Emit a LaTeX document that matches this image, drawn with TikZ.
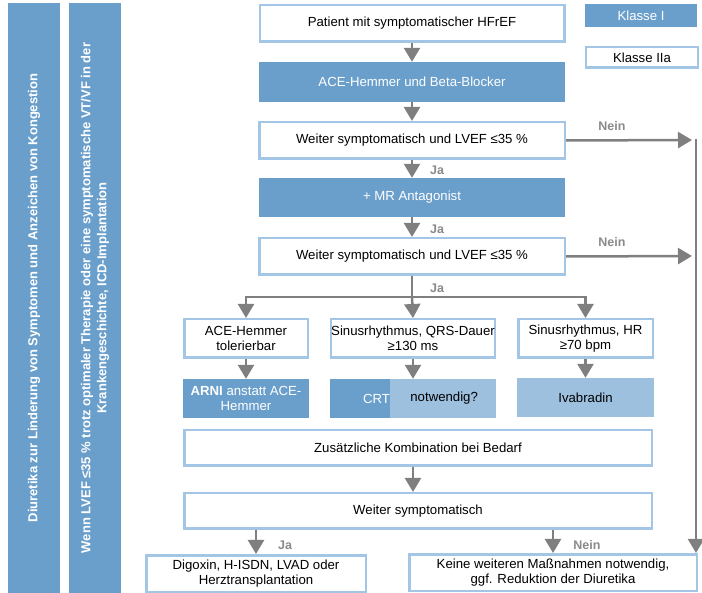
\documentclass[tikz,border=0pt]{standalone}
\usepackage{fontspec}
\setmainfont{Liberation Sans}
\usetikzlibrary{arrows.meta}
\definecolor{dblue}{HTML}{6A9FCB}
\definecolor{lblue}{HTML}{9DC0DF}
\definecolor{bord}{HTML}{A3C6E6}
\definecolor{agray}{HTML}{7F7F7F}
\definecolor{lgray}{HTML}{8A8A8A}
\newcommand\myfs{\fontsize{13.2}{15.5}\selectfont}
\begin{document}
\begin{tikzpicture}[x=1pt,y=-1pt,
  wbox/.style={draw=bord, line width=2.5pt, fill=white, inner sep=0pt, align=center, font=\myfs},
  dbox/.style={fill=dblue, text=white, inner sep=0pt, align=center, font=\myfs},
  lbox/.style={fill=lblue, inner sep=0pt, align=center, font=\myfs},
  barbox/.style={fill=dblue, text=white, inner sep=0pt, align=center, rotate=90,
     font=\bfseries\fontsize{13}{16}\selectfont, minimum width=590pt, minimum height=52pt},
  conn/.style={draw=agray, line width=2.5pt},
  arr/.style={draw=agray, line width=2.5pt, -{Triangle[width=16pt,length=14pt]}},
  lab/.style={text=lgray, inner sep=0pt, font=\bfseries\fontsize{12.5}{14}\selectfont},
  txt/.style={inner sep=0pt, font=\myfs}
]
\useasboundingbox (0,0) rectangle (702,593);

% side bars
\node[barbox] (bar1) at (34,298) {Diuretika zur Linderung von Symptomen und Anzeichen von Kongestion};
\node[barbox] (bar2) at (95,298) {Wenn LVEF ≤35 \% trotz optimaler Therapie oder eine symptomatische VT/VF in der\\Krankengeschichte, ICD-Implantation};

% legend
\node[dbox, minimum width=112pt, minimum height=23pt] (kl1) at (641,15.5) {Klasse I};
\node[wbox, minimum width=112pt, minimum height=20.5pt] (kl2) at (642,57.5) {Klasse IIa};

% main column
\node[wbox, minimum width=304.5pt, minimum height=36.5pt] (pat) at (412,23.5) {Patient mit symptomatischer HFrEF};
\node[dbox, minimum width=306pt, minimum height=40pt] (ace) at (412,82) {ACE-Hemmer und Beta-Blocker};
\node[wbox, minimum width=305.5pt, minimum height=36.5pt] (w1) at (412,140.5) {Weiter symptomatisch und LVEF ≤35 \%};
\node[dbox, minimum width=306pt, minimum height=39pt] (mr) at (412,197.5) {+ MR Antagonist};
\node[wbox, minimum width=305.5pt, minimum height=36.5pt] (w2) at (412,256.5) {Weiter symptomatisch und LVEF ≤35 \%};

% three branches
\node[wbox, minimum width=123.5pt, minimum height=38.5pt] (a) at (246,338.5) {ACE-Hemmer\\tolerierbar};
\node[wbox, minimum width=163.5pt, minimum height=38.5pt] (b) at (413,338.5) {Sinusrhythmus, QRS-Dauer\\≥130 ms};
\node[wbox, minimum width=134.5pt, minimum height=38.5pt] (c) at (585.5,338.5) {Sinusrhythmus, HR\\≥70 bpm};

\node[dbox, minimum width=126pt, minimum height=39pt] (arni) at (246,398.5) {\textbf{ARNI} anstatt ACE-\\Hemmer};
\node[lbox, minimum width=166pt, minimum height=39pt] (crt) at (413,398.5) {};
\node[dbox, minimum width=60pt, minimum height=39pt, anchor=west] (crtl) at (crt.west) {};
\node[txt, text=white, anchor=east] (crtt) at (crtl.east) {CRT};
\node[txt, anchor=west, xshift=20pt] (notw) at (crtl.east) {notwendig?};
\node[lbox, minimum width=137pt, minimum height=39pt] (iva) at (585.5,397.5) {Ivabradin};

\node[wbox, minimum width=467.5pt, minimum height=35.5pt] (zus) at (418,448) {Zusätzliche Kombination bei Bedarf};
\node[wbox, minimum width=467.5pt, minimum height=35.5pt] (ws) at (418,511) {Weiter symptomatisch};

\node[wbox, minimum width=219.5pt, minimum height=36.5pt] (bl) at (256,573.5) {Digoxin, H-ISDN, LVAD oder\\Herztransplantation};
\node[wbox, minimum width=287.5pt, minimum height=36.5pt] (br) at (553,572.5) {Keine weiteren Maßnahmen notwendig,\\ggf. Reduktion der Diuretika};

% coordinates
\coordinate (n1) at (692,140);
\coordinate (n2) at (692,256);
\coordinate (vtop) at (696,139);
\coordinate (bj) at (412,297);

% connectors
\draw[arr] (pat) -- (ace);
\draw[arr] (ace) -- (w1);
\draw[arr] (w1) -- (mr);
\draw[arr] (mr) -- (w2);
\draw[arr] (w1.east) -- (n1);
\draw[arr] (w2.east) -- (n2);
\draw[draw=agray, line width=2pt, -{Triangle[width=16pt,length=14pt]}] (vtop) -- (vtop |- br.north);

\draw[conn] (w2.south) -- (bj);
\draw[conn, line cap=rect] (a |- bj) -- (c |- bj);
\draw[arr] (a |- bj) -- (a.north);
\draw[arr] (bj) -- (b.north);
\draw[arr] (c |- bj) -- (c.north);

\draw[arr] (a) -- (arni);
\draw[arr] (b) -- (crt);
\draw[arr] (c) -- (iva);

\draw[arr] (zus.south -| b) -- (ws.north -| b);
\draw[arr] (ws.south -| bl) -- (bl.north);
\draw[arr] (ws.south -| br) -- (br.north);

% labels
\node[lab] (ja1) at (437,170) {Ja};
\node[lab] (ja2) at (437,229) {Ja};
\node[lab] (ja3) at (437,288) {Ja};
\node[lab] (ja4) at (285,545) {Ja};
\node[lab] (nein1) at (612,126) {Nein};
\node[lab] (nein2) at (612,242) {Nein};
\node[lab] (nein3) at (587,545) {Nein};
\end{tikzpicture}
\end{document}
